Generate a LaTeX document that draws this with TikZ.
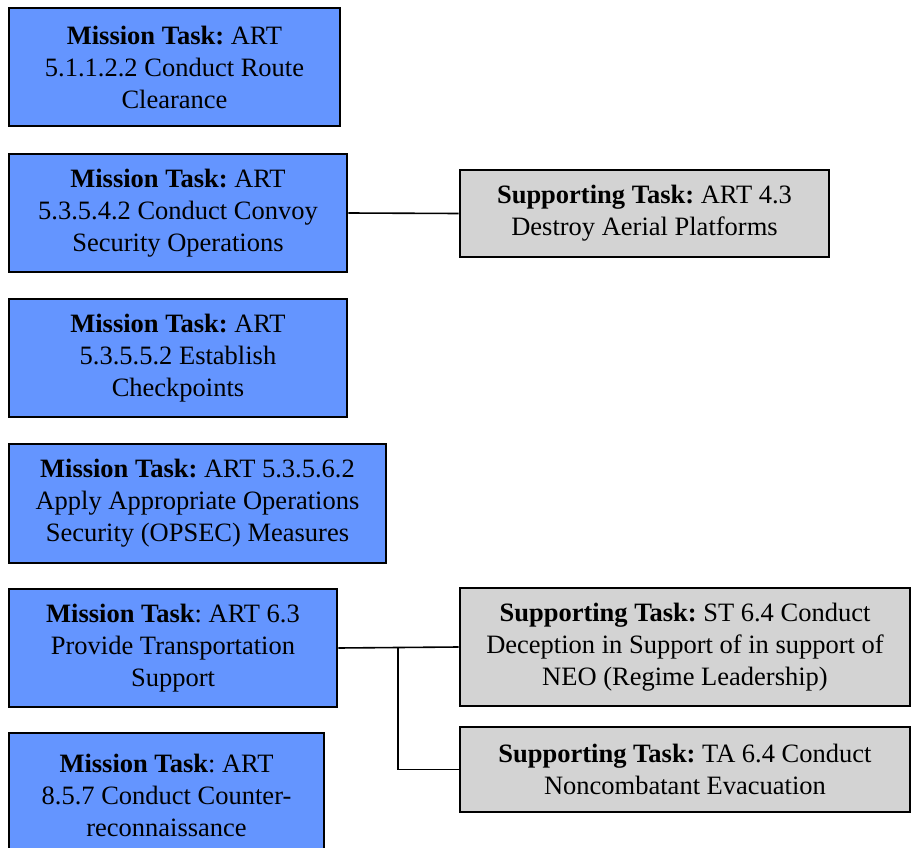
\documentclass[tikz,border=0pt]{standalone}
\usepackage{fontspec}
\setmainfont{Liberation Serif}
\frenchspacing
\usetikzlibrary{positioning}
\definecolor{missionblue}{RGB}{100,149,255}
\definecolor{supportgray}{RGB}{211,211,211}
\tikzset{
  mission/.style={draw=black, line width=2.6pt, fill=missionblue, align=center,
    inner sep=0pt, font=\fontsize{26.5}{32}\selectfont},
  support/.style={draw=black, line width=2.6pt, fill=supportgray, align=center,
    inner sep=0pt, font=\fontsize{26.5}{32}\selectfont},
  link/.style={draw=black, line width=1.6pt}
}
\begin{document}
\begin{tikzpicture}[x=1pt, y=-1pt]
        \useasboundingbox (0,0) rectangle (911,848);
        \clip (0,0) rectangle (911,848);
        % Mission tasks
        \node[mission, minimum width=331, minimum height=118] (m1) at (174.5,67)
          {\textbf{Mission Task:} ART\\5.1.1.2.2 Conduct Route\\Clearance};
        \node[mission, minimum width=338, minimum height=118] (m2) at (178,213)
          {\textbf{Mission Task:} ART\\5.3.5.4.2 Conduct Convoy\\Security Operations};
        \node[mission, minimum width=338, minimum height=118] (m3) at (178,358)
          {\textbf{Mission Task:} ART\\5.3.5.5.2 Establish\\Checkpoints};
        \node[mission, minimum width=377, minimum height=119] (m4) at (197.5,503.5)
          {\textbf{Mission Task:} ART 5.3.5.6.2\\Apply Appropriate Operations\\Security (OPSEC) Measures};
        \node[mission, minimum width=328, minimum height=118] (m5) at (173,648)
          {\textbf{Mission Task}: ART 6.3\\Provide Transportation\\Support};
        \node[mission, minimum width=315, minimum height=124] (m6) at (166.5,795)
          {\textbf{Mission Task}: ART\\8.5.7 Conduct Counter-\\reconnaissance};
        % Supporting tasks
        \node[support, minimum width=369, minimum height=87] (s1) at (644.5,213.5)
          {\textbf{Supporting Task:} ART 4.3\\Destroy Aerial Platforms};
        \node[support, minimum width=450, minimum height=118] (s2) at (685,647)
          {\textbf{Supporting Task:} ST 6.4 Conduct\\Deception in Support of in support of\\NEO (Regime Leadership)};
        \node[support, minimum width=450, minimum height=85] (s3) at (685,769.5)
          {\textbf{Supporting Task:} TA 6.4 Conduct\\Noncombatant Evacuation};
        % Links
        \draw[link] (m2.east) -- (s1.west);
        \draw[link] (m5.east) -- (s2.west);
        \coordinate (split) at (398,648);
        \draw[link] (split) |- (s3.west);
      \end{tikzpicture}
\end{document}
